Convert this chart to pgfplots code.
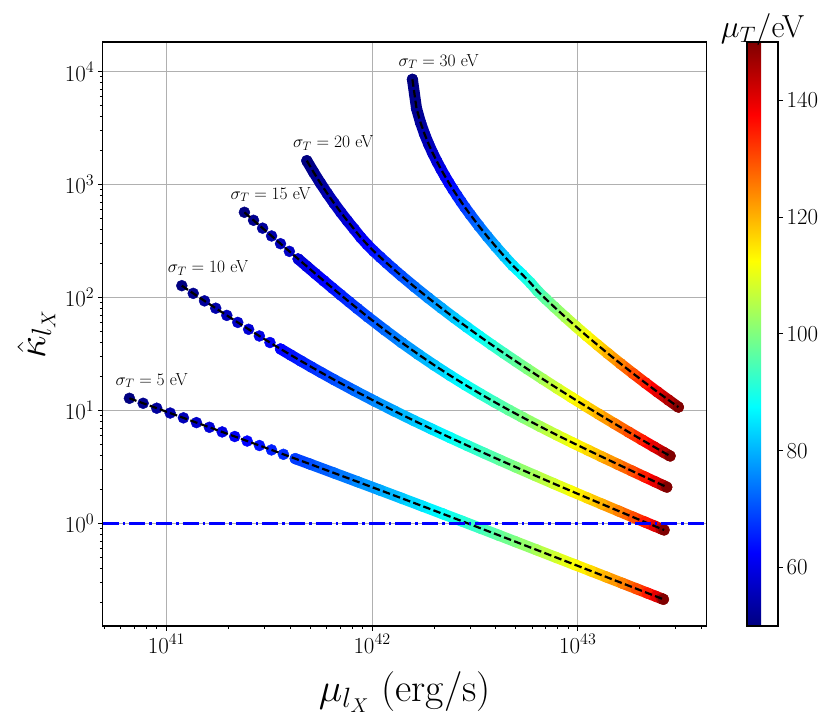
\RequirePackage{fix-cm}
\documentclass[border=0pt]{standalone}
\usepackage{pgfplots}
\usepackage{pgfplotstable}
\pgfplotsset{compat=1.18}
\pgfplotstableread{
x y mu
6.609e40 12.84 50
7.709e40 11.60 51.4
8.974e40 10.49 52.8
1.043e41 9.505 54.2
1.210e41 8.617 55.6
1.400e41 7.824 57
1.618e41 7.110 58.4
1.867e41 6.469 59.8
2.149e41 5.892 61.2
2.469e41 5.372 62.6
2.833e41 4.903 64
3.243e41 4.481 65.4
3.705e41 4.099 66.8
4.226e41 3.753 68.2
4.991e41 3.357 70
6.537e41 2.798 73
8.489e41 2.344 76
1.093e42 1.974 79
1.394e42 1.671 82
1.763e42 1.422 85
2.208e42 1.217 88
2.742e42 1.047 91
3.374e42 0.9060 94
4.113e42 0.7888 97
4.966e42 0.6910 100
6.295e42 0.5849 104
7.844e42 0.5006 108
9.609e42 0.4336 112
1.157e43 0.3802 116
1.369e43 0.3374 120
1.646e43 0.2959 125
1.923e43 0.2649 130
2.180e43 0.2422 135
2.396e43 0.2265 140
2.547e43 0.2168 145
2.607e43 0.2133 150
}\curveA
\pgfplotstableread{
x y mu
1.188e41 127.5 50
1.350e41 109.0 51.4
1.532e41 93.55 52.8
1.737e41 80.55 54.2
1.967e41 69.58 55.6
2.223e41 60.30 57
2.510e41 52.41 58.4
2.831e41 45.71 59.8
3.188e41 40.01 61.2
3.586e41 35.13 62.6
4.029e41 30.97 64
4.519e41 27.39 65.4
5.063e41 24.32 66.8
5.665e41 21.66 68.2
6.532e41 18.76 70
8.242e41 14.94 73
1.033e42 12.07 76
1.287e42 9.869 79
1.593e42 8.162 82
1.960e42 6.822 85
2.395e42 5.757 88
2.906e42 4.899 91
3.504e42 4.201 94
4.195e42 3.631 97
4.987e42 3.160 100
6.213e42 2.654 104
7.639e42 2.256 108
9.268e42 1.941 112
1.109e43 1.689 116
1.308e43 1.488 120
1.576e43 1.291 125
1.852e43 1.141 130
2.120e43 1.030 135
2.359e43 0.9499 140
2.542e43 0.8980 145
2.627e43 0.8759 150
}\curveB
\pgfplotstableread{
x y mu
2.394e41 569.1 50
2.652e41 483.7 51.4
2.935e41 411.8 52.8
3.246e41 351.2 54.2
3.587e41 300.0 55.6
3.960e41 256.7 57
4.368e41 220.1 58.4
4.815e41 189.0 59.8
5.303e41 162.7 61.2
5.835e41 140.5 62.6
6.416e41 121.5 64
7.048e41 105.4 65.4
7.736e41 91.68 66.8
8.485e41 79.95 68.2
9.542e41 67.40 70
1.157e42 51.40 73
1.396e42 39.84 76
1.679e42 31.40 79
2.010e42 25.14 82
2.396e42 20.43 85
2.844e42 16.83 88
3.359e42 14.04 91
3.951e42 11.85 94
4.625e42 10.10 97
5.388e42 8.702 100
6.553e42 7.229 104
7.896e42 6.086 108
9.428e42 5.190 112
1.114e43 4.484 116
1.303e43 3.913 120
1.560e43 3.351 125
1.833e43 2.920 130
2.109e43 2.591 135
2.370e43 2.348 140
2.588e43 2.181 145
2.708e43 2.099 150
}\curveC
\pgfplotstableread{
x y mu
4.815e41 1629 50
5.198e41 1286 51.4
5.610e41 1030 52.8
6.053e41 835.6 54.2
6.527e41 686.7 55.6
7.037e41 570.3 57
7.583e41 478.2 58.4
8.168e41 404.7 59.8
8.795e41 341.9 61.2
9.466e41 295.2 62.6
1.018e42 258.1 64
1.095e42 228.2 65.4
1.177e42 202.5 66.8
1.265e42 180.3 68.2
1.386e42 156.1 70
1.613e42 124.0 73
1.873e42 99.61 76
2.170e42 80.88 79
2.508e42 66.22 82
2.893e42 54.68 85
3.329e42 45.49 88
3.823e42 38.10 91
4.378e42 32.13 94
5.002e42 27.27 97
5.700e42 23.27 100
6.755e42 19.01 104
7.965e42 15.68 108
9.340e42 13.06 112
1.089e43 10.97 116
1.262e43 9.313 120
1.503e43 7.688 125
1.768e43 6.446 130
2.053e43 5.497 135
2.343e43 4.780 140
2.617e43 4.259 145
2.810e43 3.959 150
}\curveD
\pgfplotstableread{
x y mu
1.570e42 8565 50
1.644e42 4731 51.4
1.721e42 3528 52.8
1.801e42 2789 54.2
1.885e42 2276 55.6
1.973e42 1896 57
2.065e42 1604 58.4
2.161e42 1373 59.8
2.261e42 1186 61.2
2.366e42 1032 62.6
2.475e42 904.0 64
2.590e42 796.2 65.4
2.709e42 705.0 66.8
2.833e42 626.9 68.2
3.002e42 542.2 70
3.304e42 430.7 73
3.635e42 346.6 76
3.998e42 282.1 79
4.395e42 231.8 82
4.830e42 192.0 85
5.367e42 160.2 88
5.893e42 134.6 91
6.393e42 113.7 94
7.012e42 96.63 97
7.688e42 82.53 100
8.683e42 67.36 104
9.796e42 55.40 108
1.104e43 45.88 112
1.243e43 38.27 116
1.397e43 32.11 120
1.613e43 26.02 125
1.857e43 21.28 130
2.131e43 17.57 135
2.434e43 14.66 140
2.761e43 12.39 145
3.084e43 10.72 150
}\curveE
\pgfplotsset{
  band/.style={mesh, point meta=explicit, line width=11bp, line cap=round, line join=round, forget plot},
  beads/.style={scatter, only marks, mark=*, mark size=5.5bp, point meta=explicit,
    scatter/use mapped color={draw=mapped color, fill=mapped color}, forget plot},
  dashfit/.style={black, line width=2.2bp, dash pattern=on 7.5bp off 3.3bp, forget plot},
}
\begin{document}
\begin{tikzpicture}
\path[use as bounding box] (-102.7bp,-95bp) rectangle (727.3bp,626bp);
\begin{axis}[
  at={(0,0)}, anchor=south west,
  scale only axis, width=604bp, height=584bp,
  xmode=log, ymode=log,
  xmin=4.907e40, xmax=4.238e43,
  ymin=0.12376, ymax=18321,
  clip marker paths=true,
  tick pos=left, tick align=outside,
  major tick length=5bp, minor tick length=3bp,
  tick style={black, line width=1bp},
  grid=major,
  major grid style={color=black!31, line width=0.9bp},
  axis line style={line width=1.1bp},
  ticklabel style={font=\fontsize{23}{27}\selectfont},
  colormap/jet,
  point meta min=50, point meta max=150,
  colorbar right,
  colorbar shift/.style={xshift=40.3bp},
  colorbar style={
    at={(parent axis.north east)}, anchor=north west,
    xmode=linear, ymode=linear, grid=none,
    scale only axis, width=31bp, height=584bp,
    ytick={60,80,100,120,140},
    ytick pos=right, yticklabel pos=right,
    tick align=outside, major tick length=5bp,
    tick style={black, line width=1bp},
    ticklabel style={font=\fontsize{23}{27}\selectfont},
    axis line style={line width=1.1bp},
    title={$\mu_T/$eV},
    every axis title/.style={at={(0.5,1)}, anchor=base, yshift=4bp, font=\fontsize{32}{38}\selectfont},
  },
  xlabel={$\mu_{l_X}$ (erg/s)},
  ylabel={$\hat{\kappa}_{l_X}$},
  every axis x label/.style={at={(axis description cs:0.5,-0.130)}, anchor=base, font=\fontsize{40}{48}\selectfont},
  every axis y label/.style={at={(axis description cs:-0.0955,0.5)}, anchor=base, rotate=90, font=\fontsize{40}{48}\selectfont},
]
% coloured bands and markers, then the dashed line of each series
\addplot[band] table[x=x, y=y, meta=mu, skip coords between index={0}{13}] {\curveA};
\addplot[beads] table[x=x, y=y, meta=mu] {\curveA};
\addplot[dashfit] table[x=x, y=y] {\curveA};
\addplot[band] table[x=x, y=y, meta=mu, skip coords between index={0}{9}] {\curveB};
\addplot[beads] table[x=x, y=y, meta=mu] {\curveB};
\addplot[dashfit] table[x=x, y=y] {\curveB};
\addplot[band] table[x=x, y=y, meta=mu, skip coords between index={0}{6}] {\curveC};
\addplot[beads] table[x=x, y=y, meta=mu] {\curveC};
\addplot[dashfit] table[x=x, y=y] {\curveC};
\addplot[band] table[x=x, y=y, meta=mu] {\curveD};
\addplot[beads] table[x=x, y=y, meta=mu] {\curveD};
\addplot[dashfit] table[x=x, y=y] {\curveD};
\addplot[band] table[x=x, y=y, meta=mu] {\curveE};
\addplot[beads] table[x=x, y=y, meta=mu] {\curveE};
\addplot[dashfit] table[x=x, y=y] {\curveE};
% threshold
\addplot[blue, line width=2.6bp, dash pattern=on 16bp off 4bp on 2.6bp off 4bp, forget plot]
  coordinates {(4.907e40,1) (4.238e43,1)};
% labels
\tikzset{siglab/.style={anchor=base west, xshift=-14bp, yshift=13bp, inner sep=0pt, font=\fontsize{17.5}{21}\selectfont}}
\node[siglab] at (axis cs:6.609e40,12.84) {$\sigma_T = 5$ eV};
\node[siglab] at (axis cs:1.188e41,127.5) {$\sigma_T = 10$ eV};
\node[siglab] at (axis cs:2.394e41,569.1) {$\sigma_T = 15$ eV};
\node[siglab] at (axis cs:4.815e41,1629) {$\sigma_T = 20$ eV};
\node[siglab] at (axis cs:1.570e42,8565) {$\sigma_T = 30$ eV};
\end{axis}
\end{tikzpicture}
\end{document}
